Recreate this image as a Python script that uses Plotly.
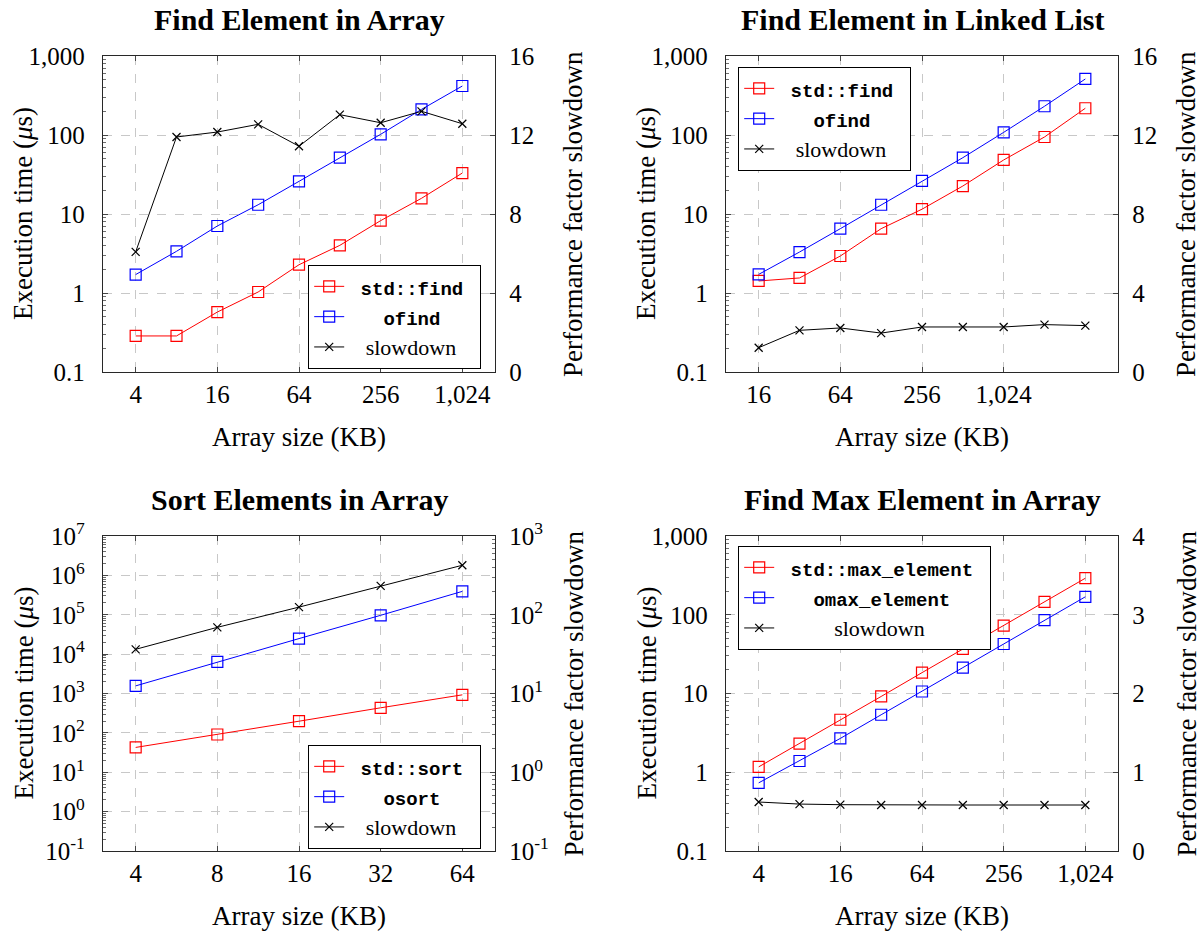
import math
import plotly.graph_objects as go

# ---------------- data ----------------
sizes_arr = [4, 8, 16, 32, 64, 128, 256, 512, 1024]
find_std = [0.286, 0.286, 0.574, 1.03, 2.28, 4.01, 8.24, 15.8, 33.0]
find_o = [1.71, 3.37, 7.05, 13.1, 25.9, 51.6, 102, 211, 417]
find_slow = [6.08, 11.9, 12.15, 12.54, 11.43, 13.03, 12.62, 13.2, 12.57]

sizes_list = [16, 32, 64, 128, 256, 512, 1024, 2048, 4096]
list_std = [1.42, 1.55, 2.94, 6.52, 11.5, 22.6, 48.3, 94.4, 218]
list_o = [1.72, 3.30, 6.52, 13.1, 26.2, 51.6, 108, 231, 512]
list_slow = [1.23, 2.11, 2.23, 1.97, 2.28, 2.28, 2.28, 2.40, 2.35]

sizes_sort = [4, 8, 16, 32, 64]
sort_std = [42.7, 91, 198, 433, 925]
sort_o = [1563, 6340, 24800, 96800, 392600]
sort_slow = [36.4, 69.2, 125, 233, 425]

sizes_max = [4, 8, 16, 32, 64, 128, 256, 512, 1024]
max_std = [1.17, 2.31, 4.64, 9.17, 18.4, 36.8, 72.6, 146, 291]
max_o = [0.733, 1.39, 2.69, 5.37, 10.6, 21.3, 42.5, 85.6, 169]
max_slow = [0.622, 0.596, 0.588, 0.584, 0.584, 0.584, 0.584, 0.584, 0.584]

titles = ["Find Element in Array", "Find Element in Linked List",
          "Sort Elements in Array", "Find Max Element in Array"]
names = [["std::find", "ofind"], ["std::find", "ofind"],
         ["std::sort", "osort"], ["std::max_element", "omax_element"]]
slow_name = "slowdown"

x_tickvals = [[4, 16, 64, 256, 1024], [16, 64, 256, 1024], [4, 8, 16, 32, 64], [4, 16, 64, 256, 1024]]
x_ticktext = [["4", "16", "64", "256", "1,024"], ["16", "64", "256", "1,024"],
              ["4", "8", "16", "32", "64"], ["4", "16", "64", "256", "1,024"]]
dec_vals = [0.1, 1, 10, 100, 1000]
dec_text = ["0.1", "1", "10", "100", "1,000"]
pow_exps = list(range(-1, 8))
pow_exps_r = list(range(-1, 4))

# ---------------- style ----------------
W, H = 1203, 932
SERIF = "Liberation Serif, DejaVu Serif, serif"
MONO = "Liberation Mono"
FS_TICK = 25
FS_LAB = 27
FS_TITLE = 30
FS_MONO = 19
FS_LEG = 22
RED, BLUE, BLACK = "rgb(255,0,0)", "rgb(0,0,255)", "black"
GRID = "rgb(200,200,200)"
AX = "rgb(40,40,40)"
NB = "\u00a0"


def px_x(p):
    return p / W


def px_y(p):
    return 1 - p / H


colx = [(103, 495), (726, 1118)]
rowy = [(56, 372), (536, 851)]


def legend_labels(a, b):
    """Centre the legend texts (as in the LaTeX legend) with non-breaking spaces."""
    n = max(len(a), len(b)) + 2
    cw = 0.6 * FS_MONO

    def m(s):
        left = (n - len(s)) // 2
        right = n - len(s) - left
        return (f'<span style="font-family:{MONO};font-size:{FS_MONO}px"><b>'
                f'{NB * left}{s}{NB * right}</b></span>')

    slow_w = 4.111 * FS_LEG
    pad = max(0, round(((n * cw) - slow_w) / 2 / (0.25 * FS_LEG)))
    return m(a), m(b), f'<span style="font-size:{FS_LEG}px">{NB * pad}{slow_name}</span>'


def minor_vals(lo, hi):
    out = []
    for e in range(lo, hi):
        for mm in range(2, 10):
            out.append(mm * 10 ** e)
    return out


panels = [
    (sizes_arr, find_std, find_o, find_slow),
    (sizes_list, list_std, list_o, list_slow),
    (sizes_sort, sort_std, sort_o, sort_slow),
    (sizes_max, max_std, max_o, max_slow),
]

fig = go.Figure()
for i, (xs, a, b, s) in enumerate(panels):
    k = i + 1
    xa = "x" if k == 1 else f"x{k}"
    yl = "y" if k == 1 else f"y{2*k-1}"
    yr = f"y{2*k}"
    leg = "legend" if k == 1 else f"legend{k}"
    la, lb, ls = legend_labels(names[i][0], names[i][1])
    fig.add_trace(go.Scatter(x=xs, y=a, name=la, mode="lines+markers",
                             line=dict(color=RED, width=1),
                             marker=dict(symbol="square-open", size=11, color=RED, line=dict(width=1.2)),
                             xaxis=xa, yaxis=yl, legend=leg))
    fig.add_trace(go.Scatter(x=xs, y=b, name=lb, mode="lines+markers",
                             line=dict(color=BLUE, width=1),
                             marker=dict(symbol="square-open", size=11, color=BLUE, line=dict(width=1.2)),
                             xaxis=xa, yaxis=yl, legend=leg))
    fig.add_trace(go.Scatter(x=xs, y=s, name=ls, mode="lines+markers",
                             line=dict(color=BLACK, width=1),
                             marker=dict(symbol="x-thin-open", size=8, color=BLACK,
                                         line=dict(width=1.2, color=BLACK)),
                             xaxis=xa, yaxis=yr, legend=leg))

L2 = math.log10(2)
x_ranges = []
for xs, pad in [(sizes_arr, 0.8), (sizes_list, 0.8), (sizes_sort, 0.4), (sizes_max, 0.8)]:
    x_ranges.append([math.log10(xs[0]) - pad * L2, math.log10(xs[-1]) + pad * L2])

tickfont = dict(family=SERIF, size=FS_TICK, color="black")
layout = dict(template="none", width=W, height=H,
              margin=dict(l=0, r=0, t=0, b=0, pad=0, autoexpand=False),
              paper_bgcolor="white", plot_bgcolor="white", showlegend=True,
              font=dict(family=SERIF, size=FS_TICK, color="black"))

annotations = []
for i in range(4):
    k = i + 1
    c, r = i % 2, i // 2
    x0, x1 = colx[c]
    y0, y1 = rowy[r]
    xkey = "xaxis" if k == 1 else f"xaxis{k}"
    ylkey = "yaxis" if k == 1 else f"yaxis{2*k-1}"
    yrkey = f"yaxis{2*k}"
    yl_id = "y" if k == 1 else f"y{2*k-1}"
    xa_id = "x" if k == 1 else f"x{k}"
    layout[xkey] = dict(domain=[px_x(x0), px_x(x1)], anchor=yl_id, type="log", range=x_ranges[i],
                        tickmode="array", tickvals=x_tickvals[i], ticktext=x_ticktext[i],
                        ticks="inside", ticklen=5, tickcolor="rgb(70,70,70)", tickwidth=1,
                        showline=True, linecolor=AX, linewidth=1.3, mirror="ticks",
                        showgrid=True, gridcolor=GRID, griddash="dash", gridwidth=1,
                        tickfont=tickfont, ticklabelstandoff=0, zeroline=False, automargin=False)
    if i == 2:
        yvals = [10 ** e for e in pow_exps]
        ytext = [f"10<sup>{e}</sup>" for e in pow_exps]
        yr_ = [-1, 7]
        mv = minor_vals(-1, 7)
    else:
        yvals, ytext, yr_ = dec_vals, dec_text, [-1, 3]
        mv = minor_vals(-1, 3)
    layout[ylkey] = dict(domain=[px_y(y1), px_y(y0)], anchor=xa_id, type="log", range=yr_,
                         tickmode="array", tickvals=yvals, ticktext=ytext,
                         ticks="inside", ticklen=5, tickcolor="rgb(70,70,70)", tickwidth=1,
                         minor=dict(tickmode="array", tickvals=mv, ticks="inside", ticklen=3,
                                    tickcolor="rgb(110,110,110)", tickwidth=0.8, showgrid=False),
                         showline=True, linecolor=AX, linewidth=1.3,
                         showgrid=True, gridcolor=GRID, griddash="dash", gridwidth=1,
                         tickfont=tickfont, ticklabelstandoff=12, zeroline=False, automargin=False)
    if i in (0, 1):
        rdict = dict(type="linear", range=[0, 16], tickmode="array", tickvals=[0, 4, 8, 12, 16])
    elif i == 2:
        rdict = dict(type="log", range=[-1, 3], tickmode="array",
                     tickvals=[10 ** e for e in pow_exps_r],
                     ticktext=[f"10<sup>{e}</sup>" for e in pow_exps_r],
                     minor=dict(tickmode="array", tickvals=minor_vals(-1, 3), ticks="inside", ticklen=3,
                                tickcolor="rgb(110,110,110)", tickwidth=0.8, showgrid=False))
    else:
        rdict = dict(type="linear", range=[0, 4], tickmode="array", tickvals=[0, 1, 2, 3, 4])
    layout[yrkey] = dict(domain=[px_y(y1), px_y(y0)], anchor=xa_id, overlaying=yl_id, side="right",
                         ticks="inside", ticklen=5, tickcolor="rgb(70,70,70)", tickwidth=1,
                         showline=True, linecolor=AX, linewidth=1.3, showgrid=False,
                         tickfont=tickfont, ticklabelstandoff=8, zeroline=False, automargin=False, **rdict)
    cx = (x0 + x1) / 2
    cy = (y0 + y1) / 2
    rt_off = 78 if c == 0 else 68
    annotations.append(dict(text=f"<b>{titles[i]}</b>", x=px_x(cx), y=px_y(y0 - 37), xref="paper", yref="paper",
                            showarrow=False, font=dict(family=SERIF, size=FS_TITLE, color="black"),
                            xanchor="center", yanchor="middle"))
    annotations.append(dict(text="Array size (KB)", x=px_x(cx), y=px_y(y1 + 65), xref="paper", yref="paper",
                            showarrow=False, font=dict(family=SERIF, size=FS_LAB, color="black"),
                            xanchor="center", yanchor="middle"))
    annotations.append(dict(text="Execution time (<i>μ</i>s)", x=px_x(x0 - 80), y=px_y(cy),
                            xref="paper", yref="paper", showarrow=False, textangle=-90,
                            font=dict(family=SERIF, size=FS_LAB, color="black"),
                            xanchor="center", yanchor="middle"))
    annotations.append(dict(text="Performance factor slowdown", x=px_x(x1 + rt_off), y=px_y(cy),
                            xref="paper", yref="paper", showarrow=False, textangle=-90,
                            font=dict(family=SERIF, size=FS_LAB, color="black"),
                            xanchor="center", yanchor="middle"))

legend_pos = [(308, 265), (738, 67), (308, 745), (738, 546)]
for i, (lx, ly) in enumerate(legend_pos):
    key = "legend" if i == 0 else f"legend{i+1}"
    layout[key] = dict(x=px_x(lx), y=px_y(ly), xanchor="left", yanchor="top", xref="paper", yref="paper",
                       bgcolor="white", bordercolor="black", borderwidth=1.2,
                       font=dict(family=SERIF, size=21, color="black"), tracegroupgap=0)

layout["annotations"] = annotations
fig.update_layout(**layout)
# remove the default 8px page margin so the figure fills the browser window exactly
fig.write_html("out.html", config={"displayModeBar": False},
               post_script="document.body.style.margin='0px';document.body.style.overflow='hidden';")
